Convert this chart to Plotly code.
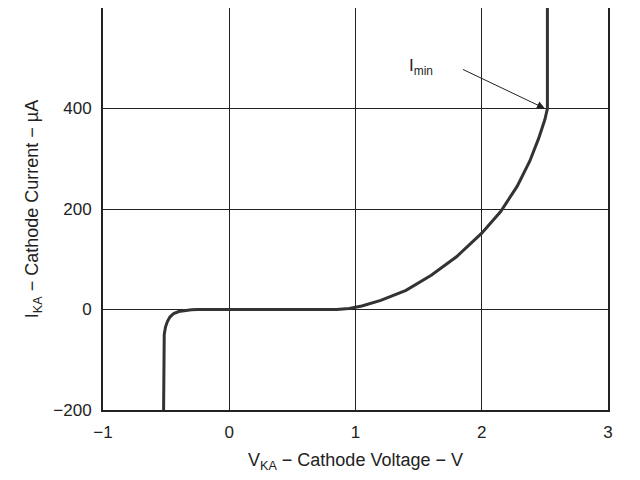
import plotly.graph_objects as go

vka = [-0.52, -0.52, -0.515, -0.505, -0.49, -0.47, -0.44, -0.40, -0.35, -0.30, -0.25, 0.0, 0.5, 0.85,
       0.95, 1.05, 1.2, 1.4, 1.6, 1.8, 2.0, 2.15, 2.28, 2.38, 2.45, 2.50, 2.52, 2.52]
ika = [-200, -70, -50, -35, -24, -15, -8, -4, -1.5, -0.5, 0, 0, 0, 0,
       2, 7, 18, 38, 68, 105, 152, 195, 245, 295, 340, 378, 400, 620]

x_ticks = [-1, 0, 1, 2, 3]
y_ticks = [-200, 0, 200, 400, 600]

fig = go.Figure()
fig.add_trace(go.Scatter(x=vka, y=ika, mode="lines",
                         line=dict(color="#333333", width=3), showlegend=False))

fig.add_annotation(x=2.50, y=400, ax=1.84, ay=479, xref="x", yref="y",
                   axref="x", ayref="y", text="", showarrow=True,
                   arrowhead=2, arrowsize=1.6, arrowwidth=1, arrowcolor="#222")
fig.add_annotation(x=1.52, y=483, xref="x", yref="y", text="I<sub>min</sub>",
                   showarrow=False, font=dict(size=17, color="#222"))

axis = dict(showline=True, linewidth=2, linecolor="#222", mirror=True,
            showgrid=True, gridcolor="#222", gridwidth=1, zeroline=False,
            ticks="outside", ticklen=6, tickcolor="rgba(0,0,0,0)",
            automargin=False, tickfont=dict(size=17, color="#222"))
fig.update_xaxes(range=[-1, 3], tickvals=x_ticks, ticktext=["\u22121", "0", "1", "2", "3"],
                 title=dict(text="V<sub>KA</sub> \u2212 Cathode Voltage \u2212 V",
                            font=dict(size=18, color="#222"), standoff=12), **axis)
fig.update_yaxes(range=[-200, 600], tickvals=y_ticks,
                 ticktext=["\u2212200", "0", "200", "400", "600"],
                 title=dict(text="I<sub>KA</sub> \u2212 Cathode Current \u2212 \u00b5A",
                            font=dict(size=18, color="#222"), standoff=10), **axis)
fig.update_layout(width=640, height=480, plot_bgcolor="white", paper_bgcolor="white",
                  font=dict(family="Liberation Sans, Arial"),
                  margin=dict(l=95, r=40, t=0, b=78))
fig.write_html("out.html")
